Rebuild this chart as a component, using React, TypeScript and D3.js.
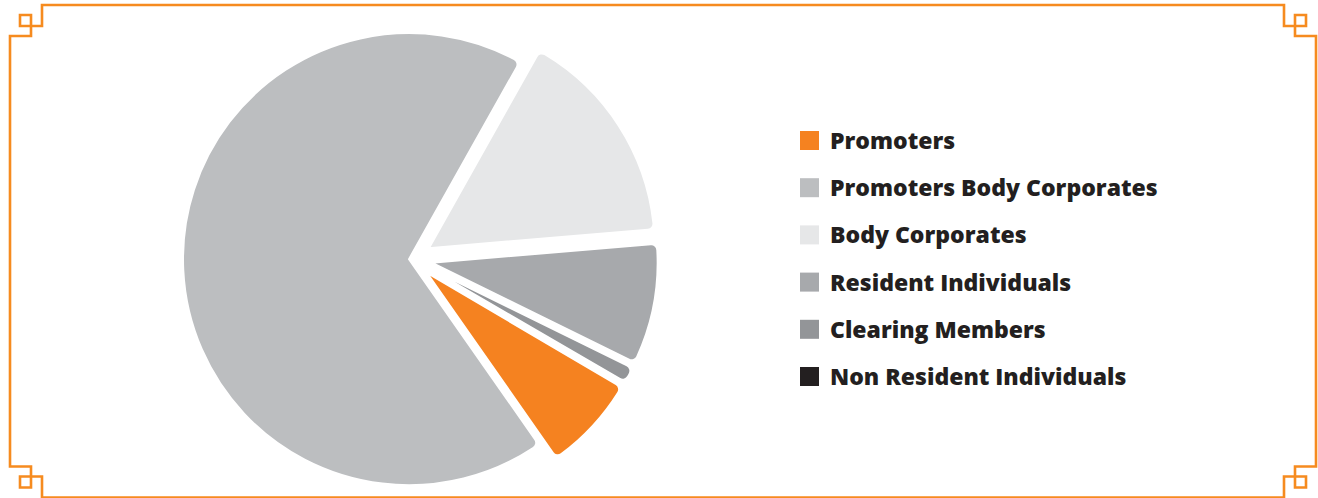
import { useEffect, useRef } from "react";
import * as d3 from "d3";

// shareholding pattern, %
const categories = [
  "Promoters",
  "Promoters Body Corporates",
  "Body Corporates",
  "Resident Individuals",
  "Clearing Members",
  "Non Resident Individuals",
];
const shares = [6.8, 67.8, 15.5, 8.6, 1.1, 0.1];
const colors = ["#F58220", "#BCBEC0", "#E6E7E8", "#A7A9AC", "#939598", "#231F20"];

const W = 1318;
const H = 498;

export default function App() {
  const svgRef = useRef<SVGSVGElement>(null);

  useEffect(() => {
    const svg = d3.select(svgRef.current);
    svg.selectAll("*").remove();

    // orange frame with the little square knots in the corners
    const L = 10, R = 1316, T = 5, B = 497.5;
    const corner = (cx: number, cy: number, sx: number, sy: number) => [
      [cx, cy + sy * 31],
      [cx + sx * 21, cy + sy * 31],
      [cx + sx * 21, cy + sy * 10],
      [cx + sx * 10, cy + sy * 10],
      [cx + sx * 10, cy + sy * 21],
      [cx + sx * 32, cy + sy * 21],
      [cx + sx * 32, cy],
    ];
    const pts = [
      ...corner(L, T, 1, 1),
      ...corner(R, T, -1, 1).reverse(),
      ...corner(R, B, -1, -1),
      ...corner(L, B, 1, -1).reverse(),
    ];
    svg.append("path")
      .attr("d", "M" + pts.map(p => p.join(",")).join("L") + "Z")
      .attr("fill", "none")
      .attr("stroke", "#F68B1F")
      .attr("stroke-width", 2.6);

    // pie
    const cx = 412, cy = 259, r = 226;
    const data = categories.map((c, i) => ({ label: c, value: shares[i], color: colors[i] }));
    const pie = d3.pie<any>()
      .sort(null)
      .value(d => d.value)
      .startAngle((120.5 * Math.PI) / 180)
      .endAngle((480.5 * Math.PI) / 180);
    const arc = d3.arc<any>().innerRadius(0).outerRadius(r).cornerRadius(6);

    const g = svg.append("g").attr("transform", `translate(${cx},${cy})`);
    g.selectAll("path")
      .data(pie(data))
      .enter()
      .append("path")
      .attr("transform", d => {
        const mid = (d.startAngle + d.endAngle) / 2;
        const off = d.data.label === "Promoters Body Corporates" ? 3 : 20;
        return `translate(${off * Math.sin(mid)},${-off * Math.cos(mid)})`;
      })
      .attr("d", arc)
      .attr("fill", d => d.data.color)
      .attr("stroke", "#fff")
      .attr("stroke-width", 2)
      .attr("stroke-linejoin", "round");

    // legend
    const y = d3.scalePoint<string>().domain(categories).range([140.5, 376.5]);
    const leg = svg.append("g")
      .selectAll("g")
      .data(data)
      .enter()
      .append("g")
      .attr("transform", d => `translate(800,${y(d.label)})`);
    leg.append("rect")
      .attr("x", 0)
      .attr("y", -9.5)
      .attr("width", 19)
      .attr("height", 19)
      .attr("fill", d => d.color);
    leg.append("text")
      .attr("x", 30)
      .attr("y", 8.5)
      .attr("fill", "#231F20")
      .style("font-family", "'Open Sans', sans-serif")
      .style("font-weight", 800)
      .style("font-size", "23px")
      .text(d => d.label);
  }, []);

  return (
    <svg
      ref={svgRef}
      width={W}
      height={H}
      style={{ position: "absolute", left: 0, top: 0, background: "#fff" }}
    />
  );
}
